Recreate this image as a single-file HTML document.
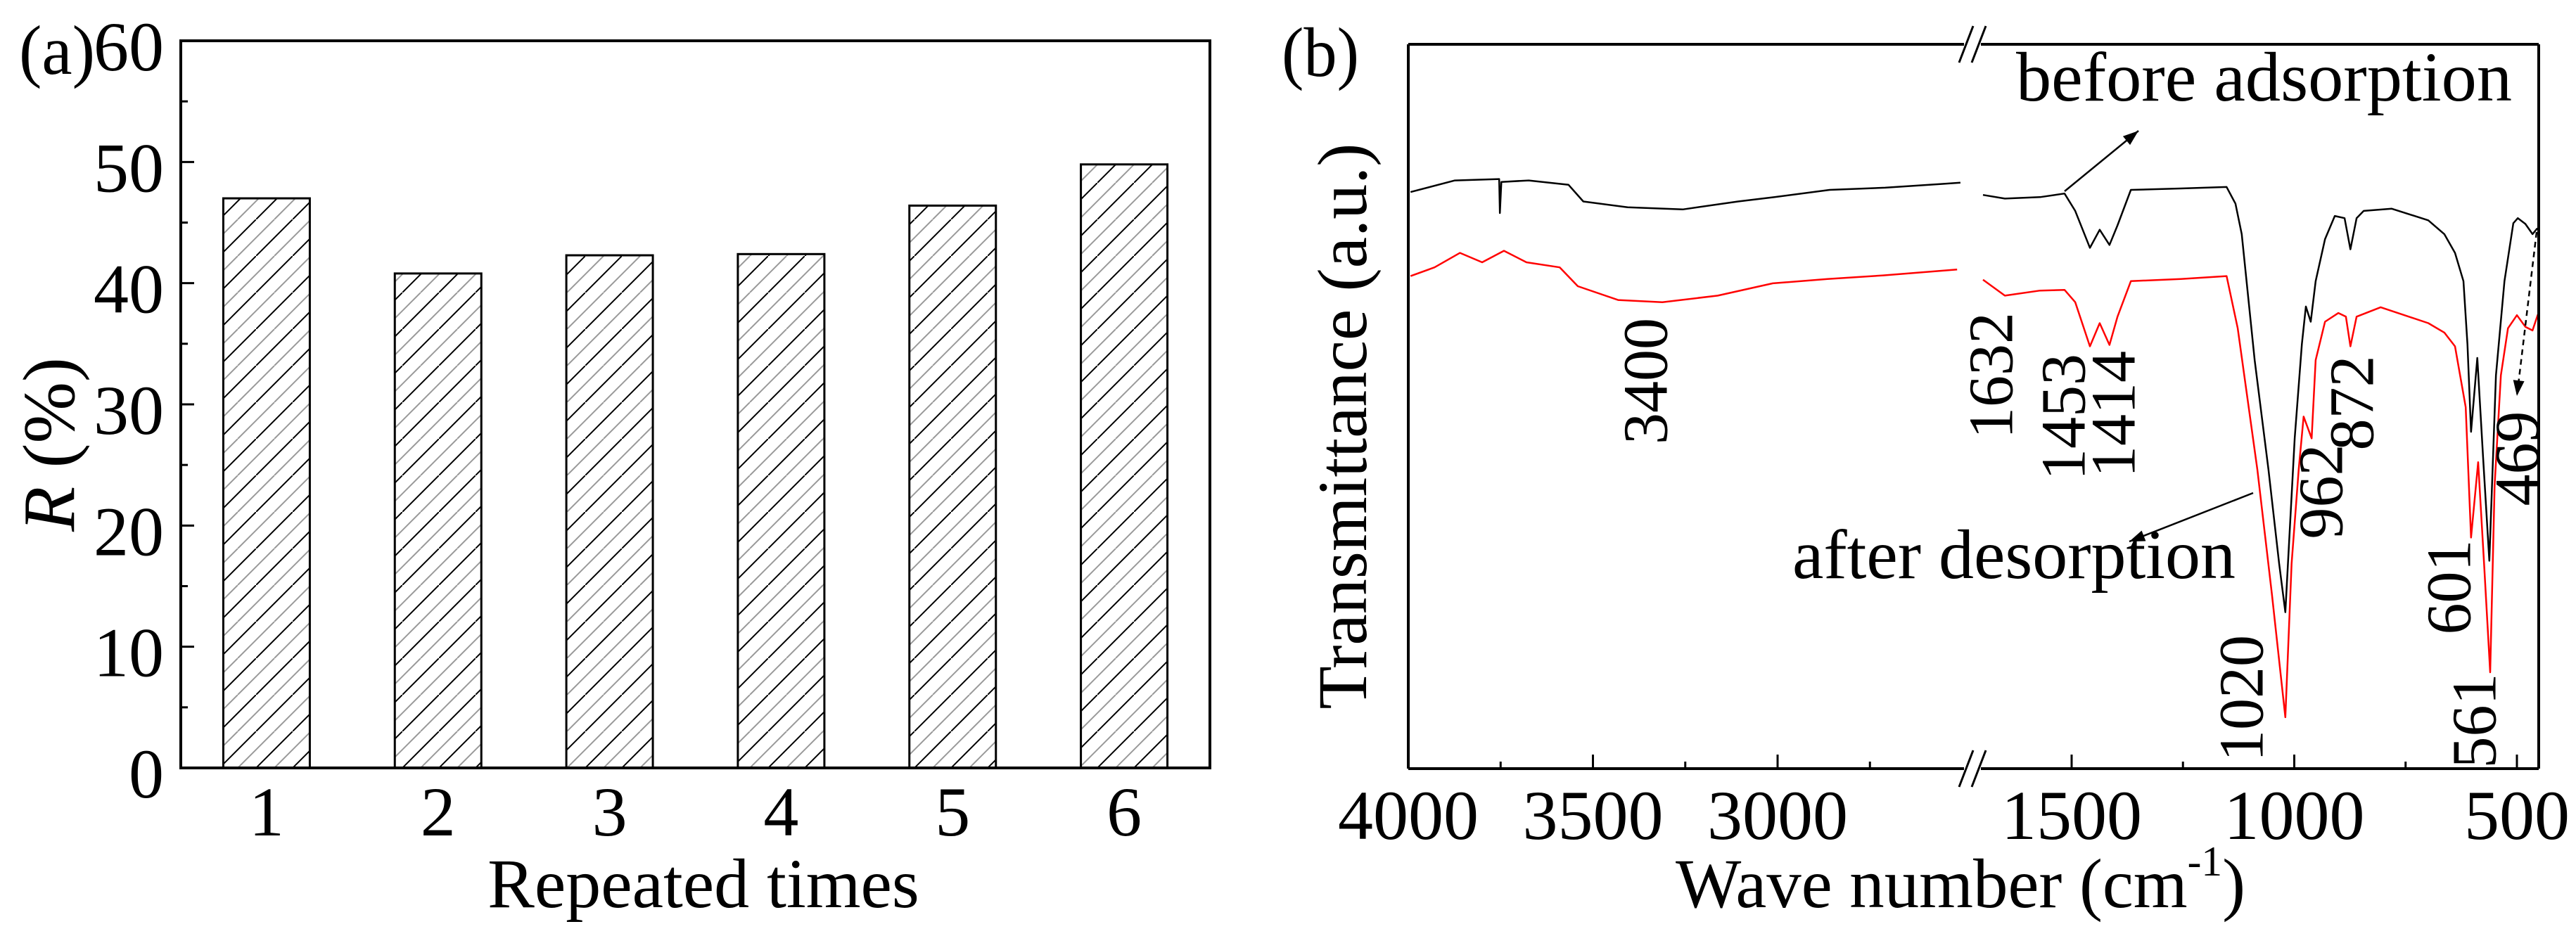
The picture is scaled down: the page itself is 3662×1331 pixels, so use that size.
<!DOCTYPE html>
<html><head><meta charset="utf-8"><style>
html,body{margin:0;padding:0;background:#fff;}
svg{display:block;font-family:"Liberation Serif","Times New Roman",serif;}
</style></head><body>
<svg id="fig" width="3662" height="1331" viewBox="0 0 3662 1331" xmlns="http://www.w3.org/2000/svg">
<defs>
<pattern id="hatch" patternUnits="userSpaceOnUse" width="52" height="52" patternTransform="translate(0,0)">
<line x1="0" y1="52" x2="52" y2="0" stroke="#000" stroke-width="2"/>
<line x1="-26" y1="52" x2="26" y2="0" stroke="#999" stroke-width="2"/>
<line x1="26" y1="52" x2="78" y2="0" stroke="#999" stroke-width="2"/>
</pattern>
</defs>
<g id="panelA"></g>
<g id="panelB"></g>
<text x="27" y="105" font-size="100" textLength="108" lengthAdjust="spacingAndGlyphs">(a)</text>
<text x="1822" y="108" font-size="100" textLength="110" lengthAdjust="spacingAndGlyphs">(b)</text>
<text transform="translate(105,632) rotate(-90)" text-anchor="middle" font-size="105"><tspan font-style="italic">R</tspan> (%)</text>
<text x="1000" y="1290" text-anchor="middle" font-size="100">Repeated times</text>
<text transform="translate(1942,606) rotate(-90)" text-anchor="middle" font-size="100" textLength="805" lengthAdjust="spacingAndGlyphs">Transmittance (a.u.)</text>
<text x="2382" y="1290" font-size="100" textLength="810" lengthAdjust="spacingAndGlyphs">Wave number (cm<tspan dy="-45" font-size="60">-1</tspan><tspan dy="45">)</tspan></text>
<text x="2866" y="143" font-size="100" textLength="705" lengthAdjust="spacingAndGlyphs">before adsorption</text>
<text x="2548" y="822" font-size="100" textLength="630" lengthAdjust="spacingAndGlyphs">after desorption</text>
</svg>
<script>
// ---- Panel (a) data ----
const barCategories = ["1","2","3","4","5","6"];
const barValues = [47.0, 40.8, 42.3, 42.4, 46.4, 49.8];
const yTicksA = [0,10,20,30,40,50,60];

// ---- Panel (b) data ----
const blackLeftWn = [3994,3874,3754,3752,3748,3674,3566,3526,3406,3257,3107,3008,2859,2709,2560,2505];
const blackLeftT  = [79.6,81.2,81.4,76.7,81.0,81.2,80.6,78.3,77.5,77.2,78.3,78.9,79.9,80.2,80.7,80.9];
const redLeftWn = [3994,3929,3860,3800,3741,3680,3590,3541,3432,3312,3162,3013,2865,2714,2514];
const redLeftT  = [68.0,69.2,71.2,69.9,71.5,69.9,69.2,66.6,64.7,64.4,65.3,67.0,67.6,68.1,68.9];
const blackRightWn = [1699,1650,1571,1516,1492,1459,1437,1415,1397,1367,1255,1152,1132,1118,1089,1058,1034,1020,999,983,974,963,952,931,909,887,874,860,844,781,699,663,639,620,611,603,589,576,562,547,528,508,498,481,465,454];
const blackRightT  = [79.2,78.7,78.9,79.4,77.0,71.9,74.4,72.3,75.0,79.9,80.1,80.3,78.0,73.8,56.4,41.3,28.3,21.6,45.6,58.6,63.8,61.7,67.3,73.1,76.3,76.0,71.7,76.0,77.0,77.3,75.7,73.8,71.2,67.3,58.6,46.5,56.7,43.0,28.7,54.3,67.3,75.3,76.0,75.2,73.8,74.6];
const redRightWn = [1699,1650,1571,1516,1492,1459,1437,1415,1397,1367,1255,1152,1127,1083,1050,1020,1006,990,979,961,952,931,901,884,874,860,806,699,663,639,615,603,587,574,560,550,536,520,500,481,465,453];
const redRightT  = [67.5,65.3,66.0,66.1,64.4,58.3,61.5,58.5,62.4,67.3,67.6,68.0,60.8,41.3,24.0,7.1,28.3,41.3,48.6,45.6,56.4,61.7,62.9,62.4,58.3,62.4,63.7,61.5,60.2,58.3,49.9,31.9,42.3,28.5,13.3,39.1,54.3,60.8,62.6,61.0,60.5,62.7];
const xTickLabelsB = [4000,3500,3000,1500,1000,500];
const xMinorTicksB = [3750,3250,2750,1250,750];
const peakLabels = ["3400","1632","1453","1414","1020","962","872","601","561","469"];
const peakPos = [[2340,542],[2831,534],[2934,593],[3005,589],[3187,993],[3300,699],[3344,573],[3482,835],[3518,1025],[3579,652]];

const NS = "http://www.w3.org/2000/svg";
function mk(tag, attrs, parent){ const e=document.createElementNS(NS,tag); for(const k in attrs) e.setAttribute(k,attrs[k]); parent.appendChild(e); return e; }

// Panel a
const A = {l:257, r:1720, t:58, b:1092};
const ga = document.getElementById('panelA');
const yA = v => A.b - (v/60)*(A.b-A.t);
const band = (A.r-A.l)/barCategories.length;
const xA = i => A.l + band*(i+0.5);
const barW = 123;
barValues.forEach((v,i)=>{
  const r = mk('rect',{x:xA(i)-barW/2,y:yA(v),width:barW,height:yA(0)-yA(v),fill:'url(#hatch)',stroke:'#000','stroke-width':3},ga);
  
  
  const t = mk('text',{x:xA(i),y:1188,'text-anchor':'middle','font-size':100},ga);
  t.textContent = barCategories[i];
  
  
});
for(let v=5; v<60; v+=10){
  const m = mk('line',{x1:A.l,x2:A.l+10,y1:yA(v),y2:yA(v),stroke:'#000','stroke-width':3},ga);
  
  
}
yTicksA.forEach(v=>{
  const m = mk('line',{x1:A.l,x2:A.l+19,y1:yA(v),y2:yA(v),stroke:'#000','stroke-width':3},ga);
  
  
  const t = mk('text',{x:233,y:yA(v)+42,'text-anchor':'end','font-size':100},ga);
  t.textContent = v;
  
  
});
const fa = mk('rect',{x:A.l,y:A.t,width:A.r-A.l,height:A.b-A.t,fill:'none',stroke:'#000','stroke-width':4},ga);



// Panel b
const B = {l:2002, r:3609, t:63, b:1093, brk:2804};
const gb = document.getElementById('panelB');
function xB(wn){ return wn>=2000 ? 2002 + (4000-wn)*0.525 : 2945 + (1500-wn)*0.633; }
const yB = v => B.b - (v/100)*(B.b-B.t);
function path(wns, ts, color, name){
  let d=''; wns.forEach((w,i)=>{ d += (i?'L':'M') + xB(w).toFixed(1)+','+yB(ts[i]).toFixed(1); });
  const p = mk('path',{d:d,fill:'none',stroke:color,'stroke-width':2.5,'stroke-linejoin':'round'},gb);
  
  
}
path(redLeftWn, redLeftT, '#f00', 'after-desorption-spectrum-left');
path(redRightWn, redRightT, '#f00', 'after-desorption-spectrum-right');
path(blackLeftWn, blackLeftT, '#000', 'before-adsorption-spectrum-left');
path(blackRightWn, blackRightT, '#000', 'before-adsorption-spectrum-right');

[[B.l,B.t,B.brk-12,B.t],[B.brk+12,B.t,B.r,B.t],[B.l,B.b,B.brk-12,B.b],[B.brk+12,B.b,B.r,B.b],[B.l,B.t,B.l,B.b],[B.r,B.t,B.r,B.b]].forEach(s=>{
  const l = mk('line',{x1:s[0],y1:s[1],x2:s[2],y2:s[3],stroke:'#000','stroke-width':4},gb);
  
  
});
[B.t,B.b].forEach(y=>{
  [-9,9].forEach(o=>{
    const l = mk('line',{x1:B.brk+o-10,y1:y+26,x2:B.brk+o+10,y2:y-26,stroke:'#000','stroke-width':3},gb);
    
    
  });
});
xTickLabelsB.forEach(w=>{
  const l = mk('line',{x1:xB(w),x2:xB(w),y1:B.b,y2:B.b-20,stroke:'#000','stroke-width':3},gb);
  
  
  const t = mk('text',{x:xB(w),y:1193,'text-anchor':'middle','font-size':100},gb);
  t.textContent = w;
  
  
});
xMinorTicksB.forEach(w=>{
  const l = mk('line',{x1:xB(w),x2:xB(w),y1:B.b,y2:B.b-10,stroke:'#000','stroke-width':3},gb);
  
  
});
peakLabels.forEach((s,i)=>{
  const [cx,cy] = peakPos[i];
  const t = mk('text',{transform:`translate(${cx},${cy}) rotate(-90)`,'text-anchor':'middle','dominant-baseline':'central','font-size':90},gb);
  t.textContent = s;
  
  
});
function arrow(x1,y1,x2,y2,name,dash){
  const l = mk('line',{x1,y1,x2,y2,stroke:'#000','stroke-width':2.5},gb);
  if(dash) l.setAttribute('stroke-dasharray','8,6');
  
  
  const a = Math.atan2(y2-y1,x2-x1), L=22, W=8;
  const p1=[x2-L*Math.cos(a)+W*Math.sin(a), y2-L*Math.sin(a)-W*Math.cos(a)];
  const p2=[x2-L*Math.cos(a)-W*Math.sin(a), y2-L*Math.sin(a)+W*Math.cos(a)];
  const h = mk('polygon',{points:`${x2},${y2} ${p1[0]},${p1[1]} ${p2[0]},${p2[1]}`,fill:'#000'},gb);
  
  
}
arrow(2935,272,3040,186,'before-adsorption-arrow',false);
arrow(3203,701,3027,770,'after-desorption-arrow',false);
arrow(3606,330,3578,563,'peak-469-arrow',true);
</script>
</body></html>
